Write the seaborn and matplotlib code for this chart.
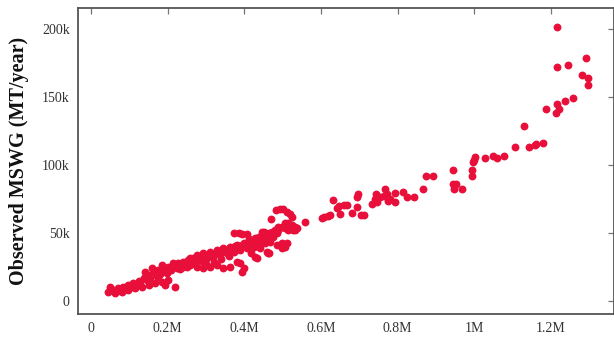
import matplotlib
matplotlib.use("Agg")
import matplotlib.pyplot as plt
import seaborn as sns
import pandas as pd

# Estimated population (millions) and observed MSWG (thousand MT/year)
population_m = [
    1.216, 1.216, 1.245, 1.291, 1.280, 1.297, 1.296, 1.258, 1.237, 1.216,
    1.221, 1.214, 1.186, 1.129, 1.178, 1.162, 1.157, 1.143, 1.106, 1.078,
    1.059, 1.049, 1.028, 1.001, 0.998, 0.997, 0.993, 0.993, 0.943, 0.893,
    0.943, 0.951, 0.946, 0.968, 0.874, 0.867, 0.842, 0.815, 0.823, 0.794,
    0.794, 0.768, 0.772, 0.763, 0.781, 0.776, 0.743, 0.742, 0.746, 0.733,
    0.753, 0.696, 0.694, 0.694, 0.711, 0.704, 0.681, 0.669, 0.659, 0.648,
    0.642, 0.650, 0.631, 0.624, 0.617, 0.607, 0.602, 0.559, 0.528, 0.533,
    0.520, 0.515, 0.482, 0.493, 0.502, 0.511, 0.520, 0.524, 0.470, 0.498,
    0.511, 0.485, 0.498, 0.507, 0.461, 0.428,
    0.507, 0.515, 0.524, 0.533, 0.537, 0.515, 0.507, 0.498, 0.489, 0.480,
    0.472, 0.463, 0.454, 0.446, 0.437, 0.433,
    0.258, 0.276, 0.293, 0.311, 0.328, 0.345, 0.363, 0.380, 0.398, 0.415,
    0.433, 0.450, 0.467,
    0.267, 0.285, 0.302, 0.319, 0.337, 0.354, 0.372, 0.389, 0.407, 0.424,
    0.441, 0.459,
    0.241, 0.258, 0.276, 0.293, 0.311, 0.328, 0.345, 0.363, 0.380, 0.389,
    0.398, 0.393, 0.433, 0.463,
    0.372, 0.385, 0.393, 0.407, 0.450, 0.459, 0.467, 0.476, 0.485, 0.489,
    0.050, 0.045, 0.058, 0.071, 0.084, 0.097, 0.110, 0.124, 0.137, 0.150,
    0.163, 0.176, 0.189, 0.202, 0.215, 0.228, 0.241, 0.254, 0.267,
    0.063, 0.080, 0.097, 0.115, 0.132, 0.150, 0.167, 0.185, 0.202, 0.219,
    0.193,
    0.141, 0.158, 0.185, 0.219,
    0.068, 0.090, 0.105, 0.120, 0.128, 0.145, 0.155, 0.172, 0.180, 0.195,
    0.208, 0.225, 0.235, 0.248, 0.262, 0.280, 0.298, 0.315, 0.332, 0.350,
    0.367, 0.384, 0.402, 0.420, 0.438, 0.455,
    0.175, 0.198, 0.232, 0.250, 0.270, 0.290, 0.308, 0.325, 0.342, 0.358,
    0.375, 0.395, 0.412, 0.428, 0.445, 0.300, 0.320, 0.340, 0.360, 0.418,
]
observed_k = [
    201.3, 172.3, 173.8, 178.9, 166.2, 164.2, 158.8, 149.5, 146.8, 144.9,
    141.4, 138.2, 141.0, 128.9, 116.2, 115.4, 114.9, 113.0, 113.0, 106.4,
    105.1, 106.4, 105.4, 105.7, 103.3, 102.0, 96.3, 92.1, 96.3, 92.1,
    86.0, 86.0, 82.1, 82.1, 92.1, 82.1, 76.2, 80.1, 76.2, 79.2,
    72.6, 82.0, 78.7, 76.8, 74.8, 73.3, 78.3, 75.0, 72.6, 71.3,
    76.7, 78.7, 76.7, 69.3, 63.2, 63.2, 64.7, 70.4, 70.2, 69.9,
    68.2, 64.0, 74.3, 63.2, 62.5, 61.5, 61.3, 58.3, 52.2, 52.2,
    53.5, 54.6, 66.9, 67.6, 67.4, 65.7, 63.8, 62.0, 60.1, 42.4,
    42.4, 41.2, 38.8, 39.9, 35.5, 32.6,
    57.1, 57.1, 55.9, 54.6, 53.4, 52.2, 53.5, 54.6, 54.6, 52.2,
    51.0, 49.8, 49.8, 51.0, 47.3, 46.1,
    31.4, 33.8, 35.1, 36.3, 37.5, 38.8, 39.9, 41.2, 42.4, 43.6,
    44.9, 44.9, 43.6,
    28.9, 30.1, 31.4, 32.6, 33.8, 35.1, 36.3, 37.5, 38.8, 39.9,
    38.8, 36.3,
    25.2, 26.5, 25.2, 24.0, 25.2, 26.5, 24.0, 25.2, 28.9, 27.7,
    24.0, 21.5, 31.4, 35.1,
    49.8, 49.8, 49.0, 49.0, 51.0, 48.5, 46.1, 47.3, 49.8, 52.2,
    10.5, 6.8, 8.1, 9.3, 10.5, 11.8, 13.0, 14.7, 16.7, 19.1,
    21.5, 22.8, 24.0, 25.2, 27.7, 27.7, 28.9, 30.1, 31.4,
    5.7, 6.8, 8.1, 9.3, 10.5, 11.8, 13.0, 14.2, 15.4, 10.5,
    11.8,
    21.5, 24.0, 26.5, 26.5,
    7.5, 9.0, 10.0, 12.5, 14.0, 15.5, 17.0, 18.5, 20.0, 21.0,
    23.0, 24.5, 26.0, 27.5, 29.0, 31.0, 33.0, 34.5, 36.0, 37.0,
    38.0, 39.5, 41.0, 42.0, 43.0, 42.5,
    17.5, 20.5, 23.5, 25.0, 27.0, 29.5, 33.5, 35.5, 37.0, 38.0,
    40.5, 41.0, 45.5, 46.5, 47.5, 27.5, 29.0, 30.5, 33.0, 35.5,
]

x_ticks = [0, 0.2e6, 0.4e6, 0.6e6, 0.8e6, 1.0e6, 1.2e6]
x_tick_labels = ["0", "0.2M", "0.4M", "0.6M", "0.8M", "1M", "1.2M"]
y_ticks = [0, 50e3, 100e3, 150e3, 200e3]
y_tick_labels = ["0", "50k", "100k", "150k", "200k"]
y_label = "Observed MSWG (MT/year)"

df = pd.DataFrame({
    "population": [v * 1e6 for v in population_m],
    "mswg": [v * 1e3 for v in observed_k],
})

sns.set_theme(style="white")
plt.rcParams["font.family"] = ["Liberation Serif", "DejaVu Serif"]

fig = plt.figure(figsize=(6.14, 3.38), dpi=100)
ax = fig.add_axes([78 / 614, 24 / 338, (613.5 - 78) / 614, (314 - 8) / 338])

sns.scatterplot(data=df, x="population", y="mswg", ax=ax, color="#e8103a",
                s=32, linewidth=0, alpha=1.0, legend=False)

ax.set_xlim(-0.034e6, 1.363e6)
ax.set_ylim(-9.6e3, 215.4e3)
ax.set_xticks(x_ticks)
ax.set_xticklabels(x_tick_labels)
ax.set_yticks(y_ticks)
ax.set_yticklabels(y_tick_labels)

ax.set_xlabel("")
ax.set_ylabel(y_label, fontsize=14.5, fontweight="bold", color="#111111", labelpad=9)

for side, sp in ax.spines.items():
    sp.set_visible(True)
    sp.set_color("#555555")
    sp.set_linewidth(1.3)

ax.tick_params(axis="both", which="major", direction="in", length=4, width=0.9,
               color="#777777", labelsize=10, labelcolor="#333333",
               top=True, right=True, pad=6)

fig.savefig("out.png", dpi=100, facecolor="white")
